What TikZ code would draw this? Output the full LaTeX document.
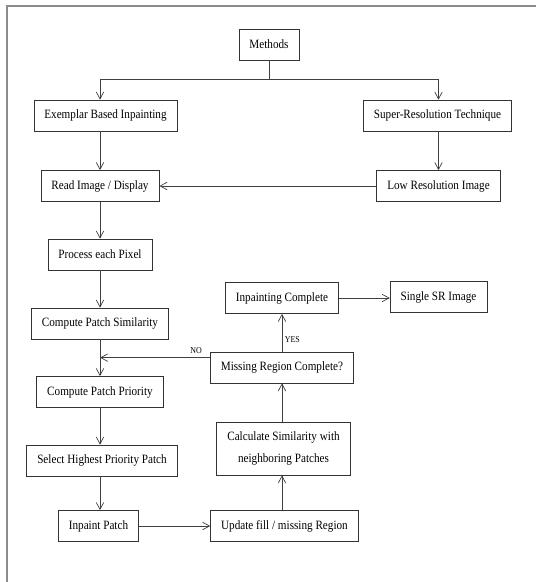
\documentclass[tikz,border=0pt]{standalone}
\usepackage{fontspec}
\setmainfont{Liberation Serif}[FakeStretch=0.88]
\usetikzlibrary{arrows.meta}

\begin{document}
\begin{tikzpicture}[
  x=1pt,y=-1pt,
  font=\fontsize{12.7}{22}\selectfont,
  box/.style={draw=black!80,line width=0.7pt,inner xsep=10.5pt,inner ysep=3pt,minimum height=31pt,align=center},
  lnk/.style={draw=black!75,line width=0.7pt},
  arr/.style={lnk,-{Straight Barb[length=7pt,width=7.5pt]}},
  tag/.style={font=\fontsize{9}{10}\selectfont,inner sep=1pt},
  frame/.style={draw=black!45,line width=1.4pt},
]
\useasboundingbox (0,0) rectangle (536,582);
\draw[frame] (536,6) -- (7,6) -- (7,582);

\node[box] (methods) at (269,44.5) {Methods};
\node[box] (exemplar) at (105.5,115.5) {Exemplar Based Inpainting};
\node[box] (superres) at (437.5,115.5) {Super-Resolution Technique};
\node[box] (readimg) at (100,186) {Read Image / Display};
\node[box] (lowres) at (438.5,186) {Low Resolution Image};
\node[box] (process) at (100,254.5) {Process each Pixel};
\node[box] (similarity) at (100,323.5) {Compute Patch Similarity};
\node[box] (priority) at (100,392) {Compute Patch Priority};
\node[box] (select) at (102,460.5) {Select Highest Priority Patch};
\node[box] (inpaint) at (98.5,526) {Inpaint Patch};
\node[box] (update) at (284.5,526) {Update fill / missing Region};
\node[box,minimum height=53pt] (calcsim) at (283.5,448.5) {Calculate Similarity with\\neighboring Patches};
\node[box] (missing) at (282,367.5) {Missing Region Complete?};
\node[box] (complete) at (282,298) {Inpainting Complete};
\node[box] (single) at (438.5,297) {Single SR Image};

\draw[lnk] (methods.south) -- ++(0,19) coordinate (split);
\draw[arr] (split) -| (exemplar.north -| readimg);
\draw[arr] (split) -| (superres.north -| lowres);
\draw[arr] (exemplar.south -| readimg) -- (readimg);
\draw[arr] (superres.south -| lowres) -- (lowres);
\draw[arr] (lowres) -- (readimg);
\draw[arr] (readimg) -- (process);
\draw[arr] (process) -- (similarity);
\draw[arr] (similarity) -- (priority);
\draw[arr] (priority.south -| similarity) -- (select.north -| similarity);
\draw[arr] (select.south -| similarity) -- (inpaint.north -| similarity);
\draw[arr] (inpaint) -- (update.west |- inpaint);
\draw[arr] (update.north -| missing) -- (calcsim.south -| missing);
\draw[arr] (calcsim.north -| missing) -- (missing);
\draw[arr] (missing) -- (complete) node[tag,pos=0.32,anchor=west,xshift=1.5pt] {YES};
\draw[arr] (complete) -- (single.west |- complete);
\coordinate (nofrom) at ([yshift=-6pt]missing.north west);
\draw[arr] (nofrom) -- (nofrom -| similarity);
\node[tag,anchor=south east,xshift=-7pt,yshift=2.5pt] (nolbl) at (nofrom) {NO};
\end{tikzpicture}
\end{document}
